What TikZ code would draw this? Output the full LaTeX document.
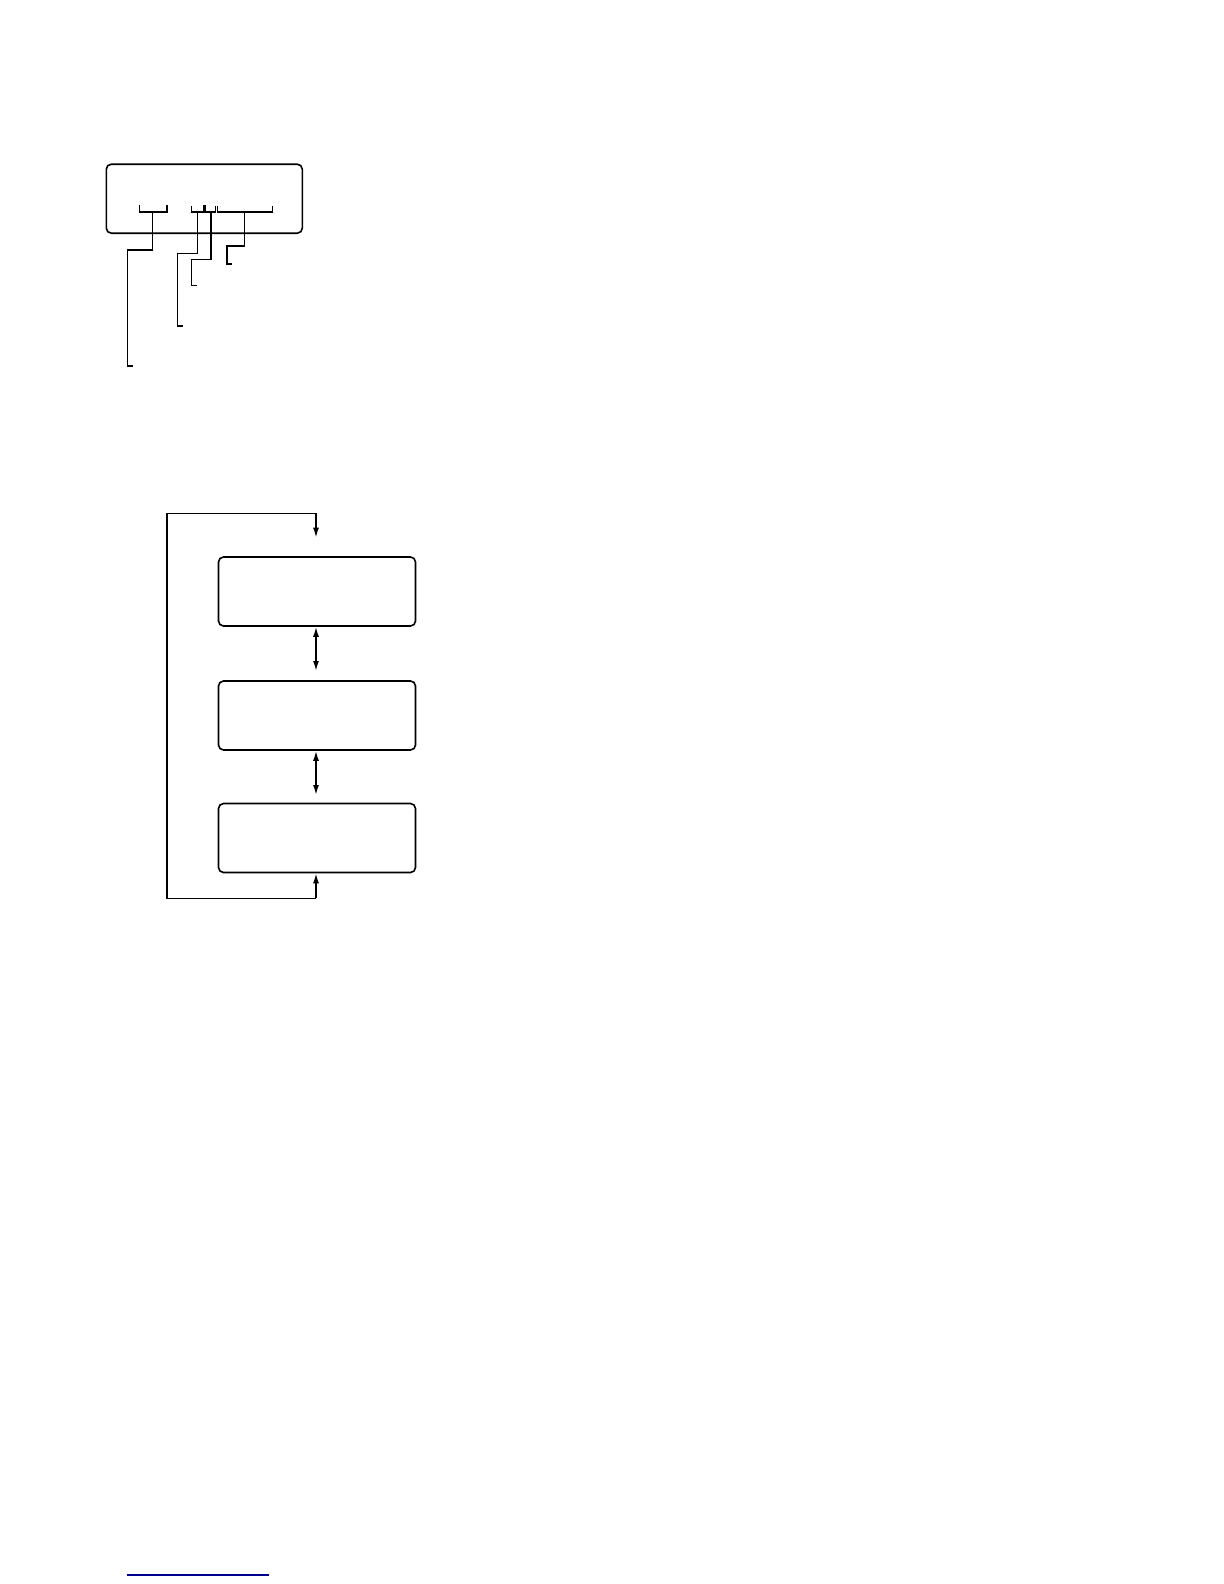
\documentclass[tikz,border=0pt]{standalone}
\usepackage{amsmath}
\usepackage{tikz}
\usetikzlibrary{arrows.meta}

\begin{document}
\begin{tikzpicture}[x = 0.5pt, y = -0.5pt, line width = 0.8pt,
                      >={Latex[length = 5pt, width = 3pt]},
                      panel/.style = {rectangle, draw, rounded corners = 2.5pt, inner sep = 0pt},
                      menu/.style = {rectangle, draw, rounded corners = 2.5pt, inner sep = 0pt,
                                     minimum width = 98.5pt, minimum height = 34.5pt}]
    \useasboundingbox (0, 0) rectangle (1224, 1584);

    % display panel with its brackets
    \node [panel, minimum width = 98pt, minimum height = 34.5pt] (disp) at (204.3, 198.7){};
    \draw (139.3, 205) -- (139.3, 212) -- (166.7, 212) -- (166.7, 205);
    \draw (191.3, 206) -- (191.3, 212) -- (215.3, 212) -- (215.3, 206);
    \draw [line width = 1.5pt] (204, 205) -- (204, 212);
    \draw (217.3, 206) -- (217.3, 212) -- (272.3, 212) -- (272.3, 206);

    \coordinate (b1) at (152.3, 212);
    \coordinate (b2) at (197.3, 212);
    \coordinate (b3) at (210.7, 212);
    \coordinate (b4) at (244.3, 212);
    \coordinate (e1) at (132.7, 366);
    \coordinate (e2) at (182.7, 326);
    \coordinate (e3) at (196.7, 285.3);
    \coordinate (e4) at (232, 263.7);

    \draw (b1) -- (152.3, 250) -- (127.3, 250) -- (127.3, 366) -- (e1);
    \draw (b2) -- (197.3, 253.3) -- (177.3, 253.3) -- (177.3, 326) -- (e2);
    \draw (b3) -- (210.7, 259.3) -- (191.3, 259.3) -- (191.3, 285.3) -- (e3);
    \draw (b4) -- (244.3, 245.7) -- (226.7, 245.7) -- (226.7, 263.7) -- (e4);

    % menu loop
    \node [menu] (m1) at (317, 591.5){};
    \node [menu] (m2) at (317, 715.5){};
    \node [menu] (m3) at (317, 838){};

    \coordinate (top) at (316, 537.7);
    \coordinate (gap1) at (316, 671);
    \coordinate (gap2) at (316, 795);

    \draw [<->] (m1.south -| top) -- (gap1);
    \draw [<->] (m2.south -| top) -- (gap2);
    \draw [->] (316, 898.3) -- (m3.south -| top);
    \draw (316, 898.3) -- (166.7, 898.3) -- (166.7, 513.3) -- (316, 513.3);
    \draw [->] (316, 513.3) -- (top);

    % link underline
    \coordinate (ua) at (126.7, 1575);
    \coordinate (ub) at (269, 1575);
    \draw [color = blue!55!black, line width = 0.8pt] (ua) -- (ub);
\end{tikzpicture}
\end{document}
